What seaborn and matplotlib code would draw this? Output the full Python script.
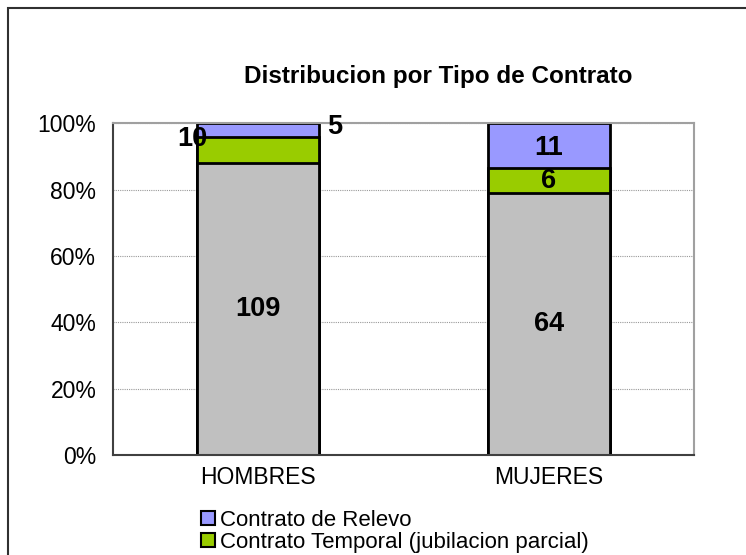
import numpy as np
import pandas as pd
import matplotlib
matplotlib.use("Agg")
import matplotlib.pyplot as plt
import seaborn as sns
from matplotlib.patches import Rectangle, Patch

categories = ["HOMBRES", "MUJERES"]
indefinido = [109, 64]
temporal = [10, 6]
relevo = [5, 11]

sns.set_style("white")
plt.rcParams["font.family"] = ["Liberation Sans", "DejaVu Sans"]
plt.rcParams["text.color"] = "black"
plt.rcParams["xtick.color"] = "black"
plt.rcParams["ytick.color"] = "black"

tot = np.array(indefinido) + np.array(temporal) + np.array(relevo)
p_ind = np.array(indefinido) / tot * 100
p_tem = np.array(temporal) / tot * 100
p_rel = np.array(relevo) / tot * 100

df = pd.DataFrame({"cat": categories,
                   "top": p_ind + p_tem + p_rel,
                   "mid": p_ind + p_tem,
                   "low": p_ind})

fig = plt.figure(figsize=(7.46, 5.55), dpi=100)
ax = fig.add_axes([0.1515, 0.180, 0.779, 0.598])

c_rel, c_tem, c_ind = "#9999FF", "#99CC00", "#C0C0C0"
for col, c in [("top", c_rel), ("mid", c_tem), ("low", c_ind)]:
    sns.barplot(data=df, x="cat", y=col, color=c, width=0.42,
                edgecolor="black", linewidth=2, saturation=1, ax=ax)

ax.set_xlim(-0.5, 1.5)
ax.set_ylim(0, 100)
ax.set_yticks([0, 20, 40, 60, 80, 100])
ax.set_yticklabels([f"{v}%" for v in range(0, 101, 20)], fontsize=16.5)
ax.set_xticks([0, 1])
ax.set_xticklabels(categories, fontsize=16.5)
ax.set_xticks([-0.5, 0.5, 1.5], minor=True)
ax.tick_params(axis="x", which="major", length=0, pad=8)
ax.tick_params(axis="x", which="minor", length=6, width=1, color="#404040", direction="out")
ax.tick_params(axis="y", length=6, width=1, color="#404040", direction="out", pad=6)
ax.set_xlabel("")
ax.set_ylabel("")
ax.yaxis.grid(True, linestyle=(0, (1, 1)), color="#999999", linewidth=0.8)
ax.set_axisbelow(True)
for s in ["top", "right"]:
    ax.spines[s].set_color("#a0a0a0")
    ax.spines[s].set_linewidth(1.5)
for s in ["left", "bottom"]:
    ax.spines[s].set_color("#404040")
    ax.spines[s].set_linewidth(1.5)

lab = dict(fontsize=19.5, fontweight="bold", ha="center", va="center", color="black")
# HOMBRES labels (odd placement as in the original)
ax.text(0 - 0.228, p_ind[0] + p_tem[0] * 0.9, str(temporal[0]), **lab)
ax.text(0 + 0.264, 98.8, str(relevo[0]), **lab)
ax.text(0, p_ind[0] / 2, str(indefinido[0]), **lab)
# MUJERES labels
ax.text(1, p_ind[1] / 2, str(indefinido[1]), **lab)
ax.text(1, p_ind[1] + p_tem[1] / 2, str(temporal[1]), **lab)
ax.text(1, p_ind[1] + p_tem[1] + p_rel[1] / 2 - 0.6, str(relevo[1]), **lab)

fig.text(0.588, 0.862, "Distribucion por Tipo de Contrato", fontsize=17.5,
         fontweight="bold", ha="center", va="center")

handles = [Patch(facecolor=c_rel, edgecolor="black", linewidth=1.5, label="Contrato de Relevo"),
           Patch(facecolor=c_tem, edgecolor="black", linewidth=1.5,
                 label="Contrato Temporal (jubilacion parcial)")]
fig.legend(handles=handles, loc="upper left", bbox_to_anchor=(0.270, 0.081),
           frameon=False, fontsize=16, handlelength=0.6, handleheight=0.6,
           handletextpad=0.25, labelspacing=0.05, borderpad=0, borderaxespad=0)

fig.patches.append(Rectangle((0.011, -0.05), 1.05, 1.0356, transform=fig.transFigure,
                             fill=False, edgecolor="#303030", linewidth=1.5))

fig.savefig("out.png", dpi=100)
plt.close(fig)
